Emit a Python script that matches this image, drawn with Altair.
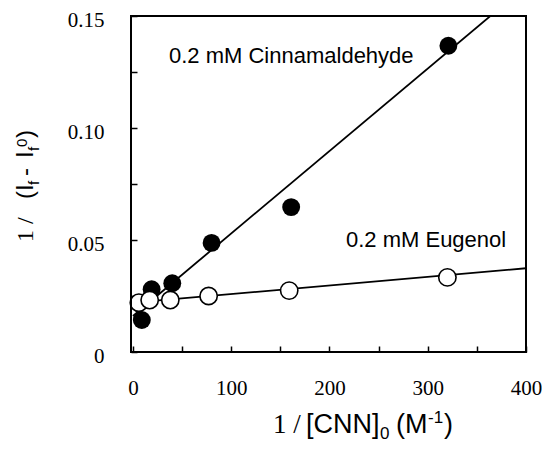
import altair as alt
import pandas as pd

# Data
cin_x = [9, 19, 40, 80, 161, 321]
cin_y = [0.0143, 0.0280, 0.0307, 0.0487, 0.0647, 0.1367]
eug_x = [6, 17, 38, 77, 159, 320]
eug_y = [0.0220, 0.0232, 0.0232, 0.0250, 0.0274, 0.0333]

# fitted straight lines (end points)
cin_fit_x = [0, 370]
cin_fit_y = [0.0161, 0.1523]
eug_fit_x = [0, 400]
eug_fit_y = [0.0220, 0.0374]

x_ticks = [0, 50, 100, 150, 200, 250, 300, 350, 400]
y_ticks = [0, 0.025, 0.05, 0.075, 0.10, 0.125, 0.15]

W, H = 395, 336

cin = pd.DataFrame({"x": cin_x, "y": cin_y})
eug = pd.DataFrame({"x": eug_x, "y": eug_y})
cin_fit = pd.DataFrame({"x": cin_fit_x, "y": cin_fit_y})
eug_fit = pd.DataFrame({"x": eug_fit_x, "y": eug_fit_y})

xscale = alt.Scale(domain=[-2, 400], nice=False, zero=False)
yscale = alt.Scale(domain=[0, 0.15], nice=False)

xaxis = alt.Axis(
    values=x_ticks,
    labelExpr="datum.value % 100 == 0 ? datum.label : ''",
    tickSize=6, offset=-6, domain=False, grid=False,
    labelFont="Liberation Serif", labelFontSize=21, labelColor="black",
    tickColor="black", tickWidth=1.5, labelPadding=25,
    labelFlush=False, labelOverlap=False, title=None,
)
yaxis = alt.Axis(
    values=y_ticks,
    labelExpr="round(datum.value*1000) % 50 == 0 ? (datum.value == 0 ? '0' : format(datum.value, '.2f')) : ''",
    tickSize=6, offset=-6, domain=False, grid=False,
    labelFont="Liberation Serif", labelFontSize=21, labelColor="black",
    tickColor="black", tickWidth=1.5, labelPadding=27,
    labelFlush=False, labelOverlap=False, labelOffset=4, title=None,
)

X = alt.X("x:Q", scale=xscale, axis=xaxis)
Y = alt.Y("y:Q", scale=yscale, axis=yaxis)

one = pd.DataFrame({"a": [0]})

frame = alt.Chart(one).mark_rect(fill=None, stroke="black", strokeWidth=2).encode(
    x=alt.value(0), x2=alt.value(W), y=alt.value(0), y2=alt.value(H)
)
line_cin = alt.Chart(cin_fit).mark_line(color="black", strokeWidth=1.8, clip=True).encode(x=X, y=Y)
line_eug = alt.Chart(eug_fit).mark_line(color="black", strokeWidth=1.8, clip=True).encode(x=X, y=Y)
pts_cin = alt.Chart(cin).mark_point(shape="circle", filled=True, color="black", size=320, opacity=1).encode(x=X, y=Y)
pts_eug = alt.Chart(eug).mark_point(shape="circle", filled=True, fill="white", stroke="black",
                                    strokeWidth=1.6, size=300, opacity=1).encode(x=X, y=Y)


def txt(s, x, y, size, font="Liberation Sans", angle=0):
    return alt.Chart(one).mark_text(
        text=s, font=font, fontSize=size, color="black", align="left",
        baseline="alphabetic", angle=angle,
    ).encode(x=alt.value(x), y=alt.value(y))


labels = [
    txt("0.2 mM Cinnamaldehyde", 38, 47, 22),
    txt("0.2 mM Eugenol", 215, 231, 22),
    # x-axis title: 1 / [CNN]0 (M-1)
    txt("1 /", 142, 417, 27, font="Liberation Serif"),
    txt("[CNN]", 175, 417, 27),
    txt("0", 249, 423, 17),
    txt("(M", 265, 417, 27),
    txt("-1", 297, 407, 17),
    txt(")", 313, 417, 27),
    # y-axis title: 1 / (If - If0), rotated
    txt("1 /", -98, 226, 24, font="Liberation Serif", angle=270),
    txt("(I", -98, 183, 24, angle=270),
    txt("f", -92, 169, 15, angle=270),
    txt("-", -98, 160, 24, angle=270),
    txt("I", -98, 142, 24, angle=270),
    txt("f", -92, 135, 15, angle=270),
    txt("0", -104, 131, 15, angle=270),
    txt(")", -98, 122, 24, angle=270),
]

chart = alt.layer(line_cin, line_eug, pts_cin, pts_eug, frame, *labels).properties(
    width=W, height=H,
    background="white",
    autosize=alt.AutoSizeParams(type="none"),
    padding={"left": 123, "top": 8, "right": 16, "bottom": 90},
).configure_view(stroke="black", strokeWidth=2)

chart.save("out.html", embed_options={"renderer": "svg", "actions": False})
